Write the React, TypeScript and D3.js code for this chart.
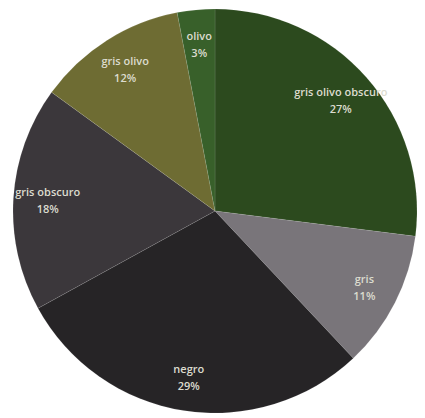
import React from "react";
import * as d3 from "d3";

const categories = ["gris olivo obscuro", "gris", "negro", "gris obscuro", "gris olivo", "olivo"];
const values = [27, 11, 29, 18, 12, 3];
const colors = ["#2c4a1e", "#79757a", "#262426", "#3b373b", "#6e6c33", "#38602a"];

const W = 425;
const H = 418;
const CX = 215;
const CY = 211;
const R = 202;

export default function App() {
  const data = categories.map((c, i) => ({ name: c, value: values[i], color: colors[i] }));
  const pie = d3.pie<any>().value((d) => d.value).sort(null).startAngle(0).endAngle(2 * Math.PI);
  const arcs = pie(data);
  const arc = d3.arc<any>().innerRadius(0).outerRadius(R);
  const lr = R * 0.83;
  const labelArc = d3.arc<any>().innerRadius(lr).outerRadius(lr);
  const total = d3.sum(values);
  return (
    <svg width={W} height={H} style={{ position: "absolute", left: 0, top: 0, background: "#fff" }}>
      <g transform={`translate(${CX},${CY})`}>
        {arcs.map((a, i) => (
          <path key={i} d={arc(a) as string} fill={a.data.color} stroke="#ffffff" strokeOpacity={0.12} strokeWidth={0.8} />
        ))}
        {arcs.map((a, i) => {
          const [x, y] = labelArc.centroid(a);
          return (
            <text key={"t" + i} textAnchor="middle" fontFamily="'Open Sans', sans-serif" fontSize={11} fontWeight={600} fill="#dcdccf">
              <tspan x={x} y={y - 4}>{a.data.name}</tspan>
              <tspan x={x} y={y + 13}>{Math.round((a.data.value / total) * 100)}%</tspan>
            </text>
          );
        })}
      </g>
    </svg>
  );
}
